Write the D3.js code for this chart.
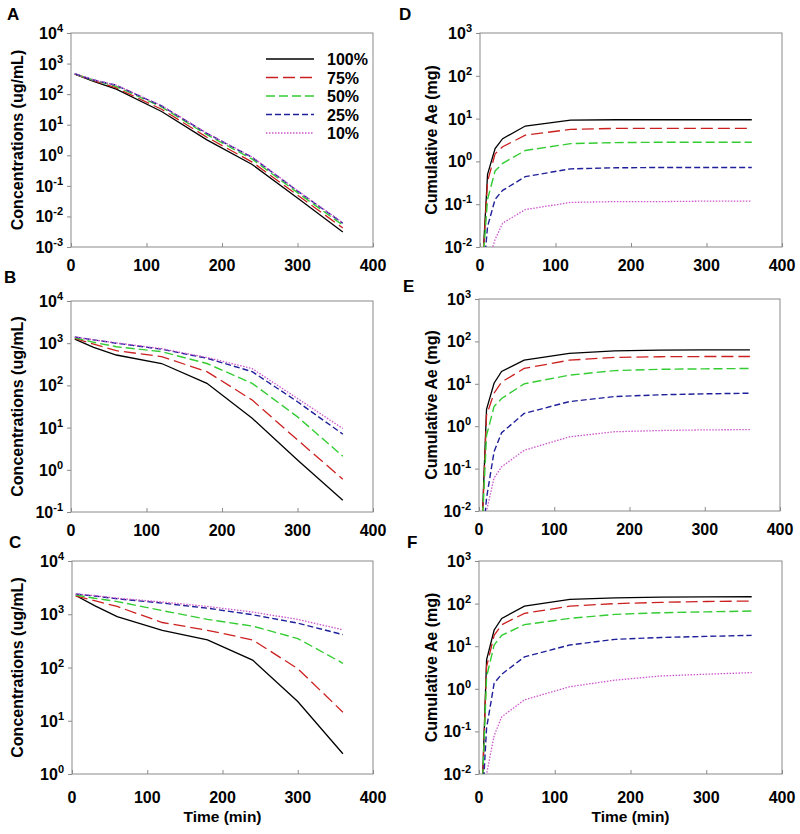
<!DOCTYPE html>
<html><head><meta charset="utf-8">
<script src="https://cdn.jsdelivr.net/npm/d3@7"></script>
<style>
body{margin:0;background:#fff}
text{font-family:"Liberation Sans",Arial,sans-serif;font-weight:bold;fill:#000}
</style>
</head><body>
<svg id="c" width="800" height="834"></svg>
<script>
// ---------------- DATA ----------------
const seriesNames = ["100%", "75%", "50%", "25%", "10%"];
const xTicks = [0, 100, 200, 300, 400];
const timeConc = [5, 30, 60, 120, 180, 240, 300, 360];
const timeAe = [5, 10, 20, 30, 60, 120, 180, 240, 300, 360];

// Panel A: concentrations (ug/mL)
const concA = [
  [450, 260, 145, 27, 3.2, 0.50, 0.040, 0.0031],
  [455, 275, 160, 32, 3.9, 0.60, 0.050, 0.0042],
  [460, 285, 180, 38, 4.7, 0.75, 0.060, 0.0052],
  [465, 290, 195, 41, 5.2, 0.85, 0.068, 0.0060],
  [465, 292, 198, 42, 5.3, 0.88, 0.070, 0.0062]
];
// Panel B
const concB = [
  [1250, 800, 525, 330, 112, 16.6, 1.7, 0.19],
  [1300, 950, 665, 480, 212, 45, 5.1, 0.6],
  [1350, 1050, 825, 630, 330, 112, 18, 2.1],
  [1400, 1200, 1000, 720, 440, 212, 41, 7],
  [1400, 1200, 1020, 740, 460, 250, 49, 9.5]
];
// Panel C
const concC = [
  [2250, 1450, 900, 500, 330, 138, 23, 2.4],
  [2200, 1800, 1400, 700, 500, 330, 95, 14.5],
  [2300, 2000, 1730, 1170, 800, 600, 350, 120],
  [2400, 2200, 1950, 1620, 1300, 980, 680, 415],
  [2400, 2250, 2000, 1700, 1400, 1100, 800, 510]
];
// Panel D: cumulative Ae (mg)
const aeD = [
  [0.012, 0.5, 2.0, 3.4, 6.7, 9.2, 9.4, 9.4, 9.4, 9.4],
  [0.010, 0.34, 1.5, 2.2, 4.1, 5.6, 5.9, 5.9, 5.9, 5.9],
  [0.008, 0.13, 0.6, 0.9, 1.8, 2.6, 2.75, 2.8, 2.8, 2.8],
  [0.003, 0.03, 0.13, 0.21, 0.44, 0.67, 0.71, 0.72, 0.72, 0.72],
  [0.0005, 0.004, 0.015, 0.036, 0.075, 0.11, 0.115, 0.115, 0.118, 0.118]
];
// Panel E
const aeE = [
  [0.012, 2.5, 10.3, 19.5, 36, 52, 60, 62, 63, 63],
  [0.010, 1.8, 6, 11, 23, 36, 42, 43.5, 44, 44],
  [0.008, 0.6, 2.9, 4.5, 10, 16, 20.5, 22, 22.5, 23],
  [0.002, 0.02, 0.25, 0.7, 2.0, 3.8, 5.0, 5.5, 5.8, 6.0],
  [0.0005, 0.01, 0.06, 0.11, 0.27, 0.56, 0.74, 0.79, 0.82, 0.83]
];
// Panel F
const aeF = [
  [0.010, 4.8, 24, 45, 87, 125, 137, 142, 144, 145],
  [0.010, 3.3, 18, 32, 59, 87, 100, 107, 112, 115],
  [0.008, 1.9, 10.7, 18, 32, 45, 56, 61, 64, 67],
  [0.003, 0.12, 1.35, 2.2, 5.6, 10.7, 14.5, 16, 17, 18],
  [0.0005, 0.01, 0.08, 0.22, 0.55, 1.12, 1.6, 2.0, 2.2, 2.4]
];

// ---------------- STYLE / LAYOUT ----------------
const styles = [
  {color: "#000000", dash: null, w: 1.3},
  {color: "#cc2020", dash: "12,5", w: 1.3},
  {color: "#33cc33", dash: "9,4", w: 1.4},
  {color: "#1f1f9a", dash: "6,3", w: 1.4},
  {color: "#cc55cc", dash: "1.5,1.5", w: 1.3}
];

const panels = [
  {id:"A", data: concA, times: timeConc, x0:71, x1:373, yT:33, yB:247, dom:[1e-3,1e4], title:"Concentrations (ug/mL)", tx:18, lx:7, ly:20, xTitle:false},
  {id:"B", data: concB, times: timeConc, x0:71, x1:373, yT:301, yB:512, dom:[1e-1,1e4], title:"Concentrations (ug/mL)", tx:18, lx:4, ly:283, xTitle:false},
  {id:"C", data: concC, times: timeConc, x0:72, x1:373, yT:561, yB:774, dom:[1,1e4], title:"Concentrations (ug/mL)", tx:18, lx:9, ly:548, xTitle:true},
  {id:"D", data: aeD, times: timeAe, x0:480, x1:782, yT:33, yB:247, dom:[1e-2,1e3], title:"Cumulative Ae (mg)", tx:432, lx:399, ly:20, xTitle:false},
  {id:"E", data: aeE, times: timeAe, x0:479, x1:780, yT:299, yB:511, dom:[1e-2,1e3], title:"Cumulative Ae (mg)", tx:432, lx:403, ly:292, xTitle:false},
  {id:"F", data: aeF, times: timeAe, x0:479, x1:782, yT:561, yB:774, dom:[1e-2,1e3], title:"Cumulative Ae (mg)", tx:432, lx:407, ly:548, xTitle:true}
];

const svg = d3.select("#c");
const frameColor = "#8a8a8a";

panels.forEach((p) => {
  const x = d3.scaleLinear().domain([0, 400]).range([p.x0, p.x1]);
  const y = d3.scaleLog().domain(p.dom).range([p.yB, p.yT]);
  const g = svg.append("g");

  const clipId = "clip" + p.id;
  svg.append("clipPath").attr("id", clipId).append("rect")
    .attr("x", p.x0).attr("y", p.yT).attr("width", p.x1 - p.x0).attr("height", p.yB - p.yT);

  g.append("rect").attr("x", p.x0).attr("y", p.yT)
    .attr("width", p.x1 - p.x0).attr("height", p.yB - p.yT)
    .attr("fill", "none").attr("stroke", frameColor).attr("stroke-width", 1);

  const lo = Math.round(Math.log10(p.dom[0])), hi = Math.round(Math.log10(p.dom[1]));
  const yTicks = d3.range(lo, hi + 1).map(e => Math.pow(10, e));
  const yAxis = d3.axisLeft(y).tickValues(yTicks).tickSize(4).tickFormat("");
  const ya = g.append("g").attr("transform", `translate(${p.x0},0)`).call(yAxis);
  ya.select(".domain").remove();
  ya.selectAll("line").attr("stroke", frameColor);
  yTicks.forEach(v => {
    const e = Math.round(Math.log10(v));
    const t = g.append("text").attr("x", p.x0 - 8).attr("y", y(v) + 6)
      .attr("text-anchor", "end").style("font-size", "16px");
    t.append("tspan").text("10");
    t.append("tspan").attr("dy", -7).style("font-size", "11px").text(String(e));
  });

  const xAxis = d3.axisBottom(x).tickValues(xTicks).tickSize(-4).tickFormat("");
  const xa = g.append("g").attr("transform", `translate(0,${p.yB})`).call(xAxis);
  xa.select(".domain").remove();
  xa.selectAll("line").attr("stroke", frameColor);
  xTicks.forEach(v => {
    g.append("text").attr("x", x(v)).attr("y", p.yB + (p.xTitle ? 29 : 24))
      .attr("text-anchor", "middle").style("font-size", "16px").text(v);
  });
  if (p.xTitle) {
    g.append("text").attr("x", (p.x0 + p.x1) / 2).attr("y", p.yB + 48)
      .attr("text-anchor", "middle").style("font-size", "15.5px").text("Time (min)");
  }

  const cy = (p.yT + p.yB) / 2;
  g.append("text").attr("transform", `translate(${p.tx + 5},${cy}) rotate(-90)`)
    .attr("text-anchor", "middle").style("font-size", "16px").text(p.title);

  g.append("text").attr("x", p.lx).attr("y", p.ly).style("font-size", "17px").text(p.id);

  const line = d3.line().x((d, i) => x(p.times[i])).y(d => y(d));
  const lg = g.append("g").attr("clip-path", `url(#${clipId})`);
  p.data.forEach((s, si) => {
    const st = styles[si];
    lg.append("path").datum(s).attr("d", line)
      .attr("fill", "none").attr("stroke", st.color).attr("stroke-width", st.w)
      .attr("stroke-dasharray", st.dash);
  });

  if (p.id === "A") {
    const rows = d3.scaleLinear().domain([0, 4]).range([59, 133]);
    seriesNames.forEach((n, si) => {
      const st = styles[si];
      const yy = rows(si);
      g.append("line").attr("x1", 266).attr("x2", 314).attr("y1", yy).attr("y2", yy)
        .attr("stroke", st.color).attr("stroke-width", st.w).attr("stroke-dasharray", st.dash);
      g.append("text").attr("x", 327).attr("y", yy + 6).style("font-size", "16px").text(n);
    });
  }
});
</script>
</body></html>
